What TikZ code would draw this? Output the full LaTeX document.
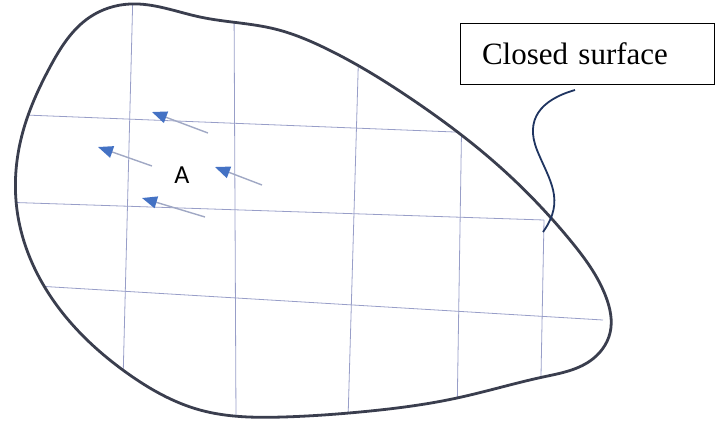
\documentclass[tikz,border=0pt]{standalone}
\usepackage{fontspec}
\setmainfont{Liberation Serif}
\newfontfamily\labelfont{Carlito}
\usetikzlibrary{arrows.meta,hobby}
\definecolor{gridc}{RGB}{152,158,200}
\definecolor{outlinec}{RGB}{58,62,78}
\definecolor{headc}{RGB}{68,114,196}
\definecolor{shaftc}{RGB}{160,168,196}
\definecolor{squigc}{RGB}{31,52,96}
\begin{document}
\begin{tikzpicture}[x=1pt,y=-1pt,
  gridline/.style={draw=gridc,line width=0.8pt},
  surface/.style={draw=outlinec,line width=2.8pt},
  fieldarrow/.style={draw=shaftc,line width=1.4pt,-{Triangle[length=15pt,width=12pt,color=headc]}},
  labelbox/.style={draw=black,line width=1pt,minimum width=254,minimum height=61,inner xsep=22pt,text width=210,align=left,font=\fontsize{31}{36}\selectfont},
  leader/.style={draw=squigc,line width=1.8pt}]
\useasboundingbox (0,0) rectangle (715,421);
\def\outline{(130,4) .. (200,17) .. (275,29) .. (325,48) .. (413,100) .. (500,167) .. (570,240) .. (606,297) .. (610,333) .. (590,361) .. (543,377) .. (457,398) .. (360,412) .. (283,417) .. (200,410) .. (127,373) .. (53,300) .. (17,210) .. (22,135) .. (50,67) .. (90,17)}
\begin{scope}
\clip[use Hobby shortcut,closed=true] \outline;
\draw[gridline] (133,-10) -- (122,420);
\draw[gridline] (234,0) -- (236,420);
\draw[gridline] (359,40) -- (348,420);
\draw[gridline] (462,100) -- (457,420);
\draw[gridline] (544,220) -- (541,376);
\draw[gridline] (0,114) -- (480,133);
\draw[gridline] (0,202) -- (544,220);
\draw[gridline] (20,285) -- (603,320);
\end{scope}
\draw[surface,use Hobby shortcut,closed=true] \outline;
\coordinate (t1) at (208,133); \coordinate (h1) at (152,112);
\coordinate (t2) at (152,166); \coordinate (h2) at (98,147);
\coordinate (t3) at (262,185); \coordinate (h3) at (215,167);
\coordinate (t4) at (205,217); \coordinate (h4) at (142,198);
\draw[fieldarrow] (t1) -- (h1);
\draw[fieldarrow] (t2) -- (h2);
\draw[fieldarrow] (t3) -- (h3);
\draw[fieldarrow] (t4) -- (h4);
\node (A) at (182,175) {\labelfont\fontsize{26}{30}\selectfont A};
\node[labelbox] (box) at (587,53.5) {Closed surface};
\coordinate (ls) at (575,90);
\coordinate (le) at (543,232);
\draw[leader] (ls) .. controls (540,100) and (525,120) .. (537,150) .. controls (549,180) and (566,200) .. (le);
\end{tikzpicture}
\end{document}
